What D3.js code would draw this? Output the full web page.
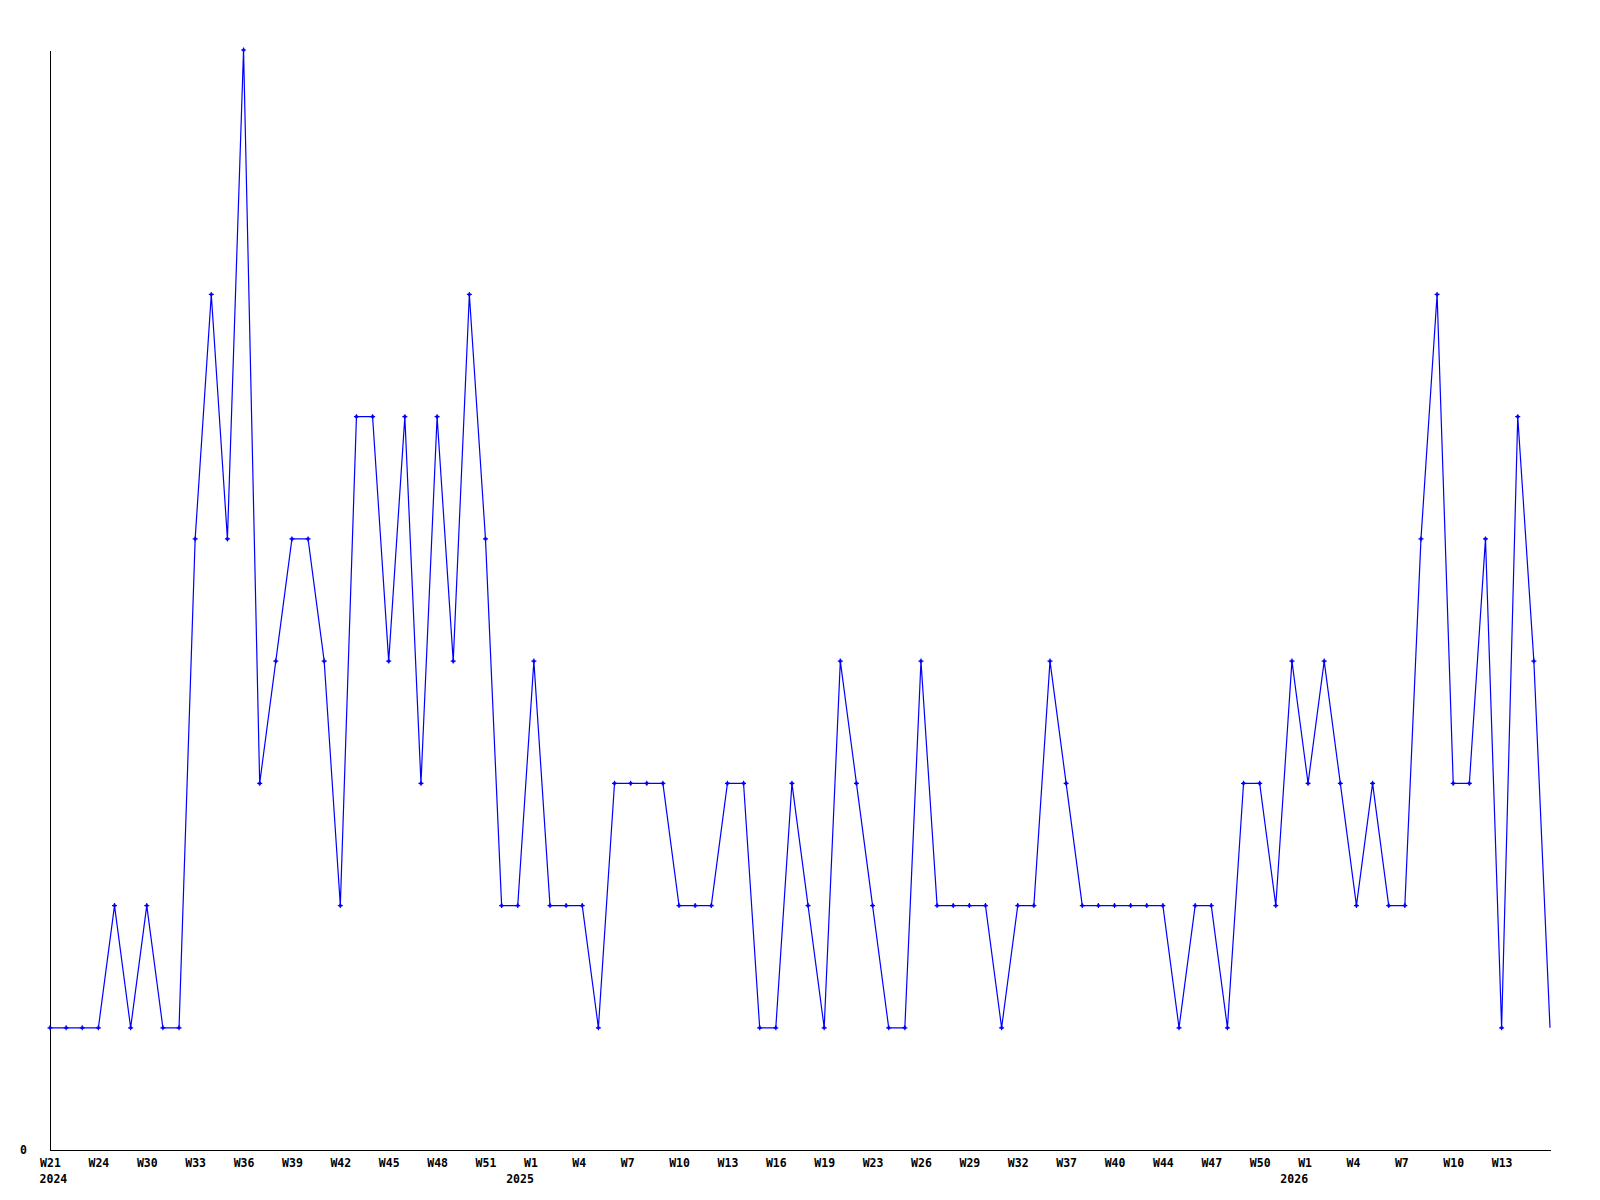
<html>
<head>
<style>
body { margin: 0; background: #fff; }
text { font-family: "DejaVu Sans Mono", "Liberation Mono", monospace; font-weight: bold; font-size: 11.5px; }
</style>
</head>
<body>
<div id="chart-holder"></div>
<script src="https://d3js.org/d3.v7.min.js"></script>
<script>
// weekly counts, one point per week that had data
var values = [1, 1, 1, 1, 2, 1, 2, 1, 1, 5,
              7, 5, 9, 3, 4, 5, 5, 4, 2, 6,
              6, 4, 6, 3, 6, 4, 7, 5, 2, 2,
              4, 2, 2, 2, 1, 3, 3, 3, 3, 2,
              2, 2, 3, 3, 1, 1, 3, 2, 1, 4,
              3, 2, 1, 1, 4, 2, 2, 2, 2, 1,
              2, 2, 4, 3, 2, 2, 2, 2, 2, 2,
              1, 2, 2, 1, 3, 3, 2, 4, 3, 4,
              3, 2, 3, 2, 2, 5, 7, 3, 3, 5,
              1, 6, 4, 1];

// a label on every third point
var tickLabels = ['W21', 'W24', 'W30', 'W33', 'W36', 'W39', 'W42', 'W45', 'W48', 'W51',
                  'W1', 'W4', 'W7', 'W10', 'W13', 'W16', 'W19', 'W23', 'W26', 'W29',
                  'W32', 'W37', 'W40', 'W44', 'W47', 'W50', 'W1', 'W4', 'W7', 'W10', 'W13'];
var yearTicks = [0, 30, 78];
var yearNames = ['2024', '2025', '2026'];

var width = 1600;
var height = 1200;
var margin = {top: 50, right: 50, bottom: 50, left: 50};

var svg = d3.select('#chart-holder')
    .append('svg')
    .attr('width', width)
    .attr('height', height);

var idx = d3.range(values.length);

var x = d3.scalePoint()
    .domain(idx)
    .range([margin.left, width - margin.right]);

var y = d3.scaleLinear()
    .domain([0, 9])
    .range([height - margin.bottom, margin.top]);

// x axis
var tickIdx = tickLabels.map(function(d, i) { return i * 3; });
var xAxis = d3.axisBottom(x)
    .tickValues(tickIdx)
    .tickFormat(function(d) { return tickLabels[d / 3]; })
    .tickSize(0)
    .tickSizeOuter(0);

var gx = svg.append('g')
    .attr('class', 'x-axis')
    .attr('transform', 'translate(0,' + y(0) + ')')
    .call(xAxis);
gx.select('.domain').attr('stroke', '#000').attr('shape-rendering', 'crispEdges');
gx.selectAll('.tick text')
    .attr('text-anchor', 'start')
    .attr('x', -10.4)
    .attr('y', 16.5)
    .attr('dy', null)
    .attr('fill', '#000');
gx.attr('font-family', null).attr('font-size', null);

// year labels under the week labels
gx.selectAll('.year')
    .data(yearTicks)
    .enter()
    .append('text')
    .attr('class', 'year')
    .attr('x', function(d, i) { return i === 0 ? x(d) - 10.4 : x(d); })
    .attr('y', 32.5)
    .attr('text-anchor', function(d, i) { return i === 0 ? 'start' : 'end'; })
    .attr('fill', '#000')
    .text(function(d, i) { return yearNames[i]; });

// y axis
var yAxis = d3.axisLeft(y)
    .tickValues([0])
    .tickFormat(d3.format('d'))
    .tickSize(0)
    .tickSizeOuter(0);

var gy = svg.append('g')
    .attr('class', 'y-axis')
    .attr('transform', 'translate(' + margin.left + ',0)')
    .call(yAxis);
gy.select('.domain').attr('stroke', '#000').attr('shape-rendering', 'crispEdges');
gy.selectAll('.tick text')
    .attr('x', -23)
    .attr('dy', '0.3em')
    .attr('fill', '#000');
gy.attr('font-family', null).attr('font-size', null);

// line
var line = d3.line()
    .x(function(d, i) { return x(i); })
    .y(function(d) { return y(d); });

svg.append('path')
    .datum(values)
    .attr('fill', 'none')
    .attr('stroke', '#0000ff')
    .attr('stroke-width', 1.2)
    .attr('d', line);

// point markers (the last one falls outside the plot and is not shown)
var marker = 'M-2.5,-0.6h5v1.2h-5z M-0.6,-2.5h1.2v5h-1.2z M-1.3,-1.3h2.6v2.6h-2.6z';
svg.selectAll('.win-point')
    .data(values.slice(0, values.length - 1))
    .enter()
    .append('path')
    .attr('class', 'win-point')
    .attr('d', marker)
    .attr('fill', '#0000ff')
    .attr('transform', function(d, i) {
        return 'translate(' + x(i) + ',' + y(d) + ')';
    });
</script>
</body>
</html>
